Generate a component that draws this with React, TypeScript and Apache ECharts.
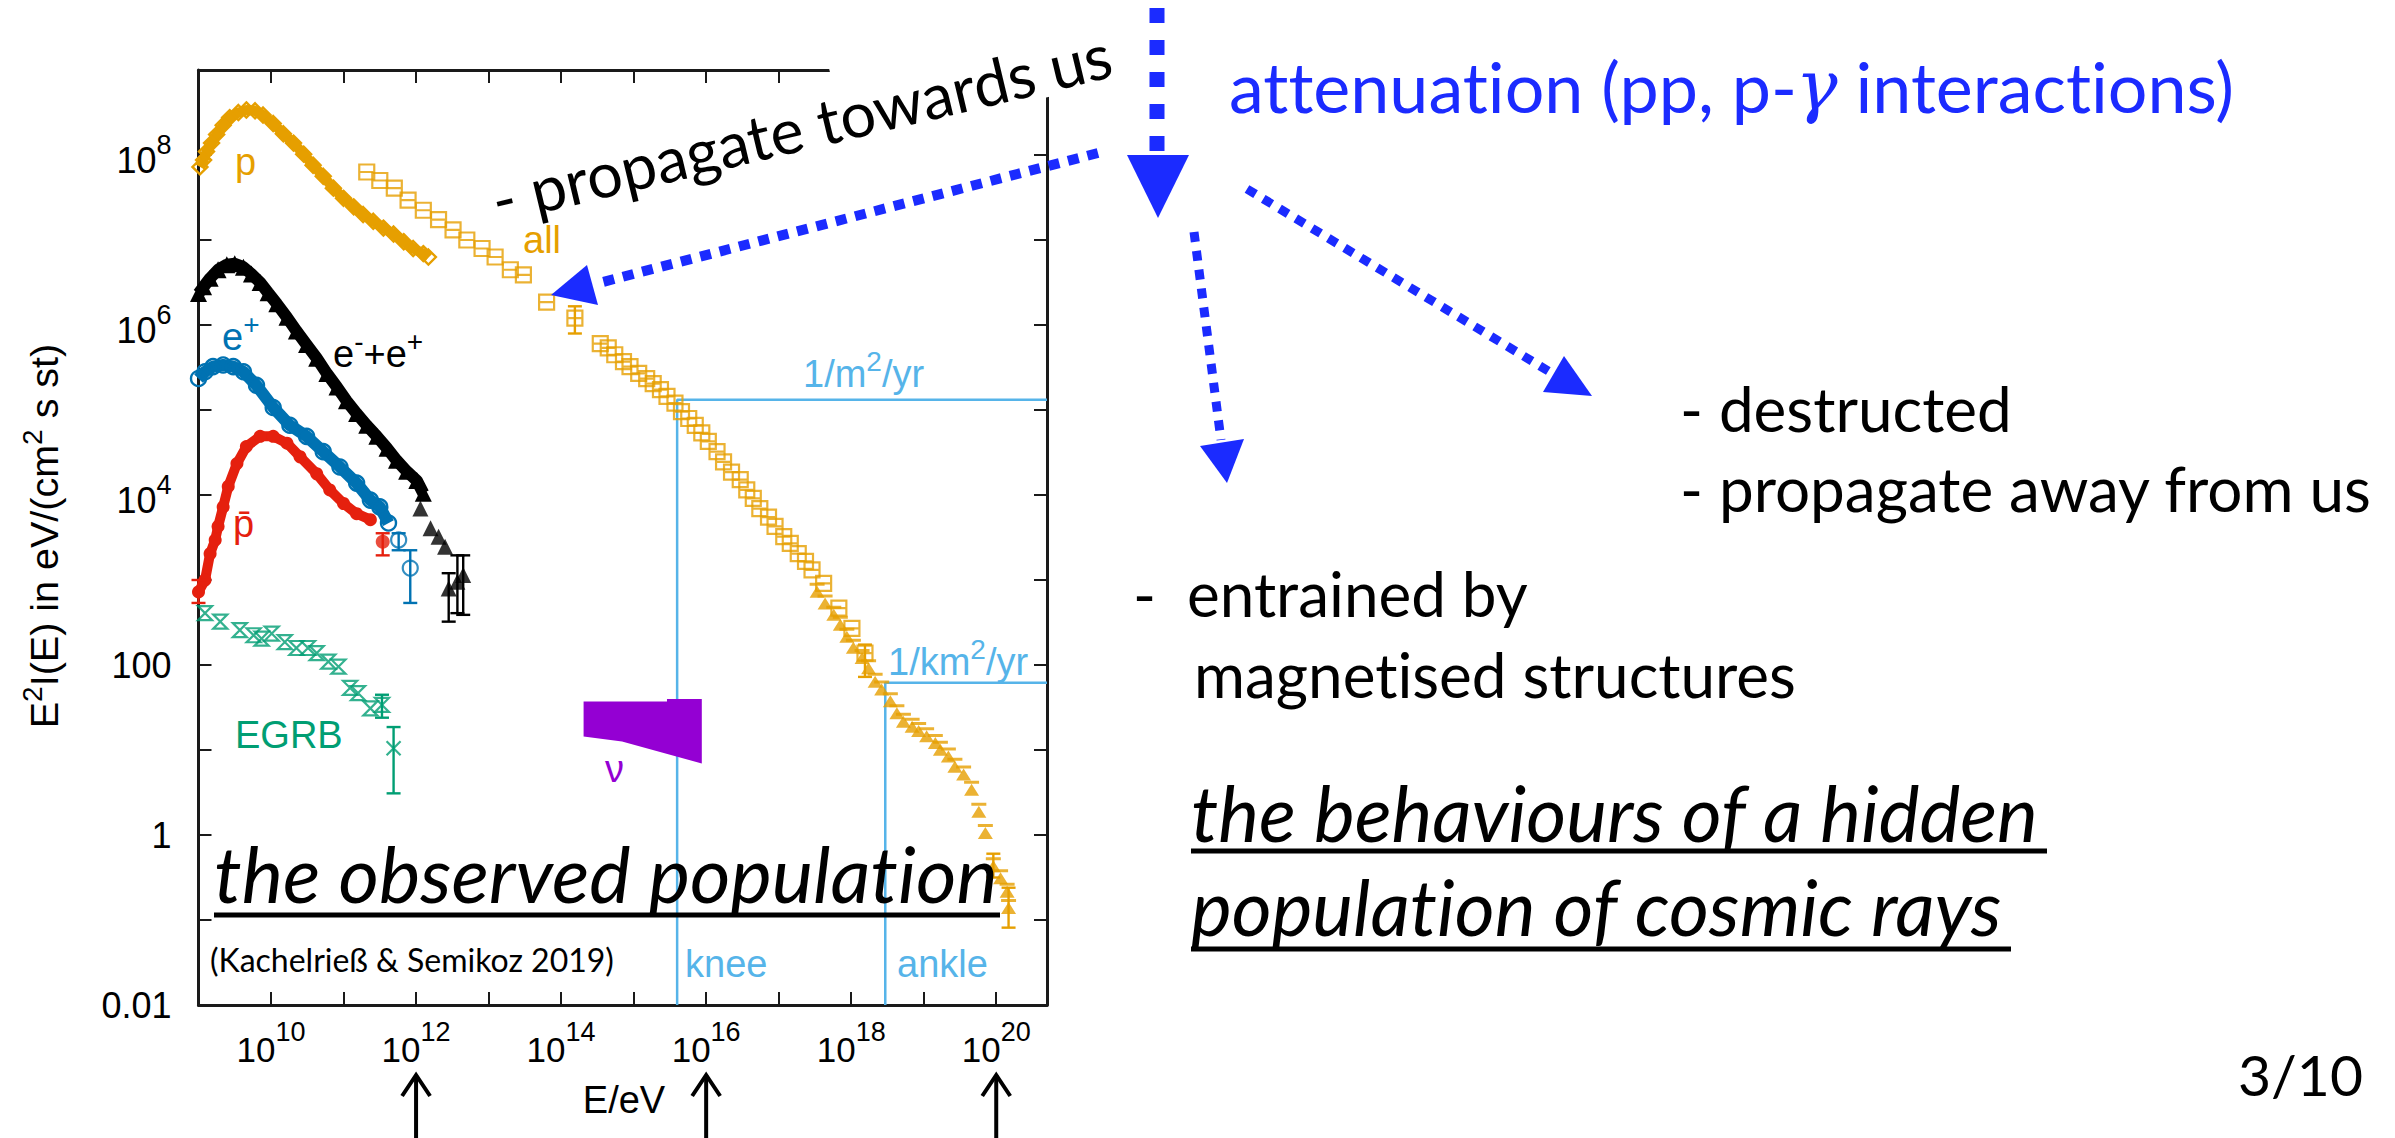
import React, { useEffect, useRef } from 'react';
import * as echarts from 'echarts';

// ---------- data (x = log10 E/eV, y = log10 of E^2 I(E) in eV/(cm^2 s st)) ----------
const pLogE = [9.02, 9.07, 9.11, 9.18, 9.25, 9.34, 9.43, 9.55, 9.66, 9.78, 9.89, 10.03, 10.17, 10.31, 10.45, 10.58, 10.72, 10.86, 11.0, 11.14, 11.27, 11.41, 11.55, 11.69, 11.83, 11.96, 12.1, 12.17];
const pLogF = [7.86, 7.94, 8.04, 8.14, 8.24, 8.35, 8.44, 8.5, 8.53, 8.52, 8.47, 8.37, 8.25, 8.14, 8.01, 7.88, 7.75, 7.61, 7.49, 7.39, 7.3, 7.22, 7.14, 7.07, 6.98, 6.9, 6.84, 6.8];

const eeLogE = [9.0, 9.07, 9.16, 9.27, 9.39, 9.5, 9.62, 9.73, 9.85, 9.96, 10.08, 10.22, 10.35, 10.49, 10.63, 10.77, 10.91, 11.04, 11.18, 11.32, 11.46, 11.6, 11.73, 11.87, 12.01, 12.1];
const eeLogF = [6.37, 6.45, 6.55, 6.65, 6.71, 6.72, 6.68, 6.6, 6.5, 6.38, 6.25, 6.09, 5.93, 5.77, 5.61, 5.43, 5.27, 5.11, 4.96, 4.82, 4.69, 4.55, 4.41, 4.28, 4.17, 4.02];
const eeTailE = [12.06, 12.2, 12.31, 12.4, 12.45, 12.57, 12.65];
const eeTailF = [3.84, 3.61, 3.51, 3.39, 2.9, 2.98, 3.06];
const eeErrE = [12.45, 12.57, 12.65];
const eeErrLo = [2.51, 2.61, 2.59];
const eeErrHi = [3.08, 3.29, 3.29];

const epLogE = [9.0, 9.09, 9.2, 9.34, 9.48, 9.62, 9.8, 10.03, 10.26, 10.49, 10.72, 10.95, 11.18, 11.37, 11.5, 11.62];
const epLogF = [5.37, 5.45, 5.51, 5.53, 5.51, 5.45, 5.29, 5.03, 4.82, 4.69, 4.51, 4.33, 4.14, 3.94, 3.86, 3.67];
const epTailE = [11.76, 11.92];
const epTailF = [3.47, 3.14];
const epErrLo = [3.35, 2.73];
const epErrHi = [3.55, 3.35];

const pbLogE = [9.0, 9.09, 9.16, 9.23, 9.27, 9.34, 9.41, 9.53, 9.66, 9.85, 10.03, 10.22, 10.4, 10.63, 10.81, 11.0, 11.18, 11.37];
const pbLogF = [2.86, 3.0, 3.31, 3.47, 3.63, 3.86, 4.1, 4.37, 4.57, 4.69, 4.69, 4.61, 4.45, 4.25, 4.06, 3.9, 3.78, 3.71];
const pbTailE = [11.54];
const pbTailF = [3.45];
const pbErrE = [9.0, 11.54];
const pbErrLo = [2.73, 3.29];
const pbErrHi = [3.0, 3.55];

const egLogE = [9.09, 9.3, 9.57, 9.76, 9.87, 10.01, 10.19, 10.35, 10.51, 10.63, 10.79, 10.93, 11.09, 11.2, 11.37, 11.53];
const egLogF = [2.61, 2.51, 2.41, 2.35, 2.31, 2.37, 2.27, 2.2, 2.2, 2.14, 2.04, 1.98, 1.73, 1.67, 1.49, 1.53];
const egLastE = [11.69];
const egLastF = [1.02];
const egErrE = [11.53, 11.69];
const egErrLo = [1.38, 0.49];
const egErrHi = [1.65, 1.27];

const allLogE = [11.32, 11.5, 11.7, 11.89, 12.1, 12.31, 12.51, 12.7, 12.91, 13.09, 13.3, 13.48, 13.8, 14.19, 14.54, 14.65, 14.74, 14.86, 14.95, 15.07, 15.18, 15.27, 15.37, 15.46, 15.57, 15.66, 15.76, 15.85, 15.94, 16.03, 16.15, 16.24, 16.35, 16.47, 16.56, 16.65, 16.74, 16.86, 16.95, 17.07, 17.16, 17.27, 17.37, 17.46, 17.62, 17.83, 18.01, 18.19];
const allLogF = [7.8, 7.7, 7.61, 7.47, 7.35, 7.24, 7.12, 7.0, 6.9, 6.8, 6.65, 6.59, 6.27, 6.08, 5.78, 5.73, 5.65, 5.57, 5.51, 5.43, 5.37, 5.31, 5.24, 5.16, 5.08, 4.98, 4.9, 4.82, 4.73, 4.63, 4.51, 4.39, 4.27, 4.18, 4.06, 3.96, 3.84, 3.74, 3.63, 3.51, 3.43, 3.31, 3.22, 3.12, 2.96, 2.67, 2.43, 2.14];
const allErrE = [14.19, 18.19];
const allErrLo = [5.9, 1.86];
const allErrHi = [6.22, 2.24];

const uheLogE = [17.53, 17.64, 17.76, 17.85, 17.94, 18.03, 18.15, 18.24, 18.33, 18.42, 18.54, 18.63, 18.72, 18.84, 18.93, 19.04, 19.16, 19.23, 19.34, 19.43, 19.55, 19.66, 19.76, 19.85, 19.96, 20.06, 20.15, 20.17];
const uheLogF = [2.88, 2.74, 2.61, 2.49, 2.35, 2.22, 2.1, 1.98, 1.82, 1.73, 1.59, 1.45, 1.35, 1.29, 1.24, 1.18, 1.1, 1.02, 0.94, 0.82, 0.73, 0.55, 0.29, 0.04, -0.35, -0.49, -0.65, -0.84];
const uheErrE = [19.96, 20.17];
const uheErrLo = [-0.5, -1.09];
const uheErrHi = [-0.22, -0.62];

const nuTopE = [14.31, 15.46, 15.46, 15.94];
const nuTopF = [1.57, 1.57, 1.6, 1.6];
const nuBotE = [15.94, 14.84, 14.31];
const nuBotF = [0.84, 1.1, 1.16];

const kneeLine = [[15.6, -2], [15.6, 5.12], [20.7, 5.12]];
const ankleLine = [[18.47, -2], [18.47, 1.79], [20.7, 1.79]];

const arrowExps = [12, 16, 20];

const X_MIN = 9, X_MAX = 20.7, Y_MIN = -2, Y_MAX = 9;
const xLabelExps = [10, 12, 14, 16, 18, 20];
const yLabelMap: Record<number, string> = {
  8: '{b|10}{s|8}', 6: '{b|10}{s|6}', 4: '{b|10}{s|4}', 2: '{b|100}', 0: '{b|1}', [-2]: '{b|0.01}',
};

// ---------- styling ----------
const CF = '"Liberation Sans", Arial, Helvetica, sans-serif';
const SF = 'Lato, "Open Sans", sans-serif';
const ORANGE = '#e69f00';
const BLUE = '#0072b2';
const RED = '#e5200e';
const GREEN = '#009e73';
const PURPLE = '#9400d3';
const LBLUE = '#56b4e9';
const ARROW = '#1b2bff';
const FRAME = '#1a1a1a';

const zip = (a: number[], b: number[]) => a.map((v, i) => [v, b[i]]);

const band = (E: number[], F: number[], color: string, symbol: string, size: number, lw: number, filled: boolean) => ({
  type: 'line', data: zip(E, F), symbol, symbolSize: size, showSymbol: true, showAllSymbol: true,
  lineStyle: { color, width: lw }, silent: true, z: 3,
  itemStyle: filled ? { color } : { color: 'rgba(0,0,0,0)', borderColor: color, borderWidth: 2.4 },
});

const scat = (E: number[], F: number[], color: string, symbol: string, size: number, filled: boolean, z = 4) => ({
  type: 'scatter', data: zip(E, F), symbol, symbolSize: size, silent: true, z,
  itemStyle: filled ? { color } : { color: 'rgba(0,0,0,0)', borderColor: color, borderWidth: 2.2 },
});

const errs = (E: number[], lo: number[], hi: number[], color: string, cap = 7) => ({
  type: 'custom', silent: true, z: 4, clip: false,
  data: E.map((e, i) => [e, lo[i], hi[i]]),
  encode: { x: 0, y: [1, 2] },
  renderItem: (_p: any, api: any) => {
    const a = api.coord([api.value(0), api.value(2)]);
    const b = api.coord([api.value(0), api.value(1)]);
    const st = { stroke: color, lineWidth: 2.4 };
    return {
      type: 'group', children: [
        { type: 'line', shape: { x1: a[0], y1: a[1], x2: b[0], y2: b[1] }, style: st },
        { type: 'line', shape: { x1: a[0] - cap, y1: a[1], x2: a[0] + cap, y2: a[1] }, style: st },
        { type: 'line', shape: { x1: b[0] - cap, y1: b[1], x2: b[0] + cap, y2: b[1] }, style: st },
      ],
    };
  },
});

const richChart = (fs: number, sfs: number, pad: number) => ({
  b: { fontSize: fs, fontFamily: CF, verticalAlign: 'bottom' },
  s: { fontSize: sfs, fontFamily: CF, padding: [0, 0, pad, 0], verticalAlign: 'top' },
});

const T = (text: string, x: number, y: number, o: any = {}) => ({
  type: 'text', x, y, z: 30, silent: true, rotation: o.rotation || 0,
  style: {
    text, fill: o.fill || '#000', fontSize: o.fs || 62, fontFamily: o.ff || SF,
    fontStyle: o.fst || 'normal', align: o.align || 'left', verticalAlign: 'middle',
    rich: o.rich,
  },
});
const CT = (text: string, x: number, y: number, fill: string, o: any = {}) =>
  T(text, x, y, { fill, fs: 38, ff: CF, rich: richChart(38, 28, 18), ...o });

const L = (x1: number, y1: number, x2: number, y2: number, stroke: string, lineWidth: number, lineDash?: number[]) => ({
  type: 'line', z: 30, silent: true, shape: { x1, y1, x2, y2 },
  style: { stroke, lineWidth, lineDash, lineCap: 'butt' },
});
const P = (points: number[][], fill: string, z = 30) => ({
  type: 'polygon', z, silent: true, shape: { points }, style: { fill },
});

const xAxisBase = {
  type: 'value', min: X_MIN, max: X_MAX, interval: 1,
  axisLine: { show: true, onZero: false, lineStyle: { color: FRAME, width: 3 } },
  axisTick: { show: true, inside: true, length: 13, lineStyle: { color: FRAME, width: 2 } },
  splitLine: { show: false },
};
const yAxisBase = {
  type: 'value', min: Y_MIN, max: Y_MAX, interval: 1,
  axisLine: { show: true, onZero: false, lineStyle: { color: FRAME, width: 3 } },
  axisTick: { show: true, inside: true, length: 13, lineStyle: { color: FRAME, width: 2 } },
  splitLine: { show: false },
};

const option: any = {
  animation: false,
  backgroundColor: '#ffffff',
  grid: { left: 198.5, top: 70, width: 848.5, height: 935, show: false },
  xAxis: [
    {
      ...xAxisBase, position: 'bottom',
      axisLabel: {
        margin: 13, color: '#000',
        formatter: (v: number) => {
          const n = Math.round(v);
          if (Math.abs(v - n) > 1e-6 || xLabelExps.indexOf(n) < 0) return '';
          return `{b|10}{s|${n}}`;
        },
        rich: {
          b: { fontSize: 35, fontFamily: CF, color: '#000', verticalAlign: 'bottom' },
          s: { fontSize: 27, fontFamily: CF, color: '#000', padding: [0, 0, 22, 0], verticalAlign: 'top' },
        },
      },
    },
    { ...xAxisBase, position: 'top', axisLabel: { show: false } },
  ],
  yAxis: [
    {
      ...yAxisBase, position: 'left',
      axisLabel: {
        margin: 27, color: '#000',
        formatter: (v: number) => {
          const n = Math.round(v);
          if (Math.abs(v - n) > 1e-6) return '';
          return yLabelMap[n] || '';
        },
        rich: {
          b: { fontSize: 36, fontFamily: CF, color: '#000', verticalAlign: 'bottom' },
          s: { fontSize: 27, fontFamily: CF, color: '#000', padding: [0, 0, 20, 0], verticalAlign: 'top' },
        },
      },
    },
    { ...yAxisBase, position: 'right', axisLabel: { show: false } },
  ],
  series: [
    { type: 'line', data: kneeLine, symbol: 'none', lineStyle: { color: LBLUE, width: 2.5 }, silent: true, z: 1 },
    { type: 'line', data: ankleLine, symbol: 'none', lineStyle: { color: LBLUE, width: 2.5 }, silent: true, z: 1 },
    {
      type: 'custom', silent: true, z: 2, data: [[nuTopE[0], nuTopF[0]]], encode: { x: 0, y: 1 },
      renderItem: (_p: any, api: any) => {
        const pts = [
          ...nuTopE.map((e, i) => api.coord([e, nuTopF[i]])),
          ...nuBotE.map((e, i) => api.coord([e, nuBotF[i]])),
        ];
        return { type: 'polygon', shape: { points: pts }, style: { fill: PURPLE } };
      },
    },
    scat(egLogE, egLogF, GREEN, 'path://M0,0L10,0L0,10L10,10Z', 14, false),
    scat(egLastE, egLastF, GREEN, 'path://M0,0L10,10M10,0L0,10', 14, false),
    errs(egErrE, egErrLo, egErrHi, GREEN),
    band(pbLogE, pbLogF, RED, 'circle', 13, 10, true),
    scat(pbTailE, pbTailF, RED, 'circle', 14, true),
    errs(pbErrE, pbErrLo, pbErrHi, RED),
    band(epLogE, epLogF, BLUE, 'circle', 15, 12, false),
    scat(epTailE, epTailF, BLUE, 'circle', 15, false),
    errs(epTailE, epErrLo, epErrHi, BLUE),
    band(eeLogE, eeLogF, '#000', 'triangle', 17, 12, true),
    scat(eeTailE, eeTailF, '#000', 'triangle', 16, true),
    errs(eeErrE, eeErrLo, eeErrHi, '#000'),
    band(pLogE, pLogF, ORANGE, 'diamond', 15, 10, false),
    scat(allLogE, allLogF, ORANGE, 'path://M0,0L10,0L10,10L0,10ZM0,5L10,5', 15, false),
    errs(allErrE, allErrLo, allErrHi, ORANGE),
    scat(uheLogE, uheLogF, ORANGE, 'path://M0,0L10,0L10,2L0,2ZM5,2L10,10L0,10Z', 15, true),
    errs(uheErrE, uheErrLo, uheErrHi, ORANGE),
    {
      type: 'custom', silent: true, z: 10, clip: false,
      data: arrowExps.map((e) => [e, Y_MIN]), encode: { x: 0, y: 1 },
      renderItem: (_p: any, api: any) => {
        const p = api.coord([api.value(0), api.value(1)]);
        const y0 = p[1];
        const st = { stroke: '#000', lineWidth: 4, fill: 'none' };
        return {
          type: 'group', children: [
            { type: 'line', shape: { x1: p[0], y1: y0 + 70, x2: p[0], y2: y0 + 140 }, style: st },
            { type: 'polyline', shape: { points: [[p[0] - 14, y0 + 91], [p[0], y0 + 70], [p[0] + 14, y0 + 91]] }, style: st },
          ],
        };
      },
    },
  ],
  graphic: {
    elements: [
      // white box of the overlapping text frame
      P([[824, 48], [1116, -23], [1140, 75], [848, 145]], '#ffffff', 20),

      // chart labels
      CT('{b|p}', 235, 162, ORANGE),
      CT('{b|all}', 523, 240, ORANGE),
      CT('{b|e}{s|+}', 222, 333, BLUE),
      CT('{b|e}{s|-}{b|+e}{s|+}', 333, 350, '#000'),
      CT('{b|p\u0304}', 233, 524, RED),
      CT('{b|EGRB}', 235, 735, GREEN),
      CT('{b|\u03bd}', 605, 769, PURPLE),
      CT('{b|1/m}{s|2}{b|/yr}', 803, 370, LBLUE),
      CT('{b|1/km}{s|2}{b|/yr}', 888, 658, LBLUE),
      CT('{b|knee}', 685, 964, LBLUE),
      CT('{b|ankle}', 897, 964, LBLUE),
      CT('{b|E/eV}', 624, 1100, '#000', { align: 'center' }),
      T('{b|E}{s|2}{b|I(E) in eV/(cm}{s|2}{b| s st)}', 41, 536, {
        fs: 39.5, ff: CF, align: 'center', rotation: Math.PI / 2, rich: richChart(39.5, 28, 18),
      }),

      // slide texts
      T('the observed population', 214, 873, { fs: 78, fst: 'italic' }),
      L(214, 915, 1000, 915, '#000', 5),
      T('(Kachelrie\u00df & Semikoz 2019)', 210, 959, { fs: 32 }),
      T('- propagate towards us', 801, 126, { fs: 63, align: 'center', rotation: 0.234 }),
      T('attenuation (pp, p-{g|\u03b3} interactions)', 1229, 86, {
        fs: 70, fill: ARROW,
        rich: { g: { fontSize: 70, fontStyle: 'italic', fontFamily: '"DejaVu Serif", serif', fill: ARROW } },
      }),
      T('- destructed', 1680, 408, { fs: 62 }),
      T('- propagate away from us', 1680, 488, { fs: 62 }),
      T('-', 1133, 593, { fs: 62 }),
      T('entrained by', 1187, 593, { fs: 62 }),
      T('magnetised structures', 1194, 674, { fs: 62 }),
      T('the behaviours of a hidden', 1191, 812, { fs: 77, fst: 'italic' }),
      L(1191, 851, 2047, 851, '#000', 5),
      T('population of cosmic rays', 1191, 906, { fs: 77, fst: 'italic' }),
      L(1191, 949, 2011, 949, '#000', 5),
      T('3/10', 2363, 1074, { fs: 57, align: 'right' }),

      // blue arrows
      L(1157, 8, 1157, 152, ARROW, 15, [15, 17]),
      P([[1127, 155], [1189, 155], [1158, 218]], ARROW),
      L(1098, 153, 595, 284, ARROW, 10, [11, 9]),
      P([[587, 265], [598, 305], [551, 295]], ARROW),
      L(1194, 232, 1221, 440, ARROW, 9, [10, 9]),
      P([[1200, 446], [1244, 439], [1227, 483]], ARROW),
      L(1247, 189, 1550, 372, ARROW, 9, [10, 9]),
      P([[1543, 392], [1564, 356], [1592, 396]], ARROW),
    ],
  },
};

export default function App() {
  const ref = useRef<HTMLDivElement>(null);
  useEffect(() => {
    document.body.style.margin = '0';
    const chart = echarts.init(ref.current as HTMLDivElement, null, { renderer: 'svg' });
    chart.setOption(option);
    return () => chart.dispose();
  }, []);
  return (
    <>
      <style>{'#root text, #root tspan { font-variant-ligatures: none !important; font-feature-settings: "liga" 0, "clig" 0 !important; }'}</style>
      <div ref={ref} style={{ position: 'absolute', left: 0, top: 0, width: 2395, height: 1138 }} />
    </>
  );
}
